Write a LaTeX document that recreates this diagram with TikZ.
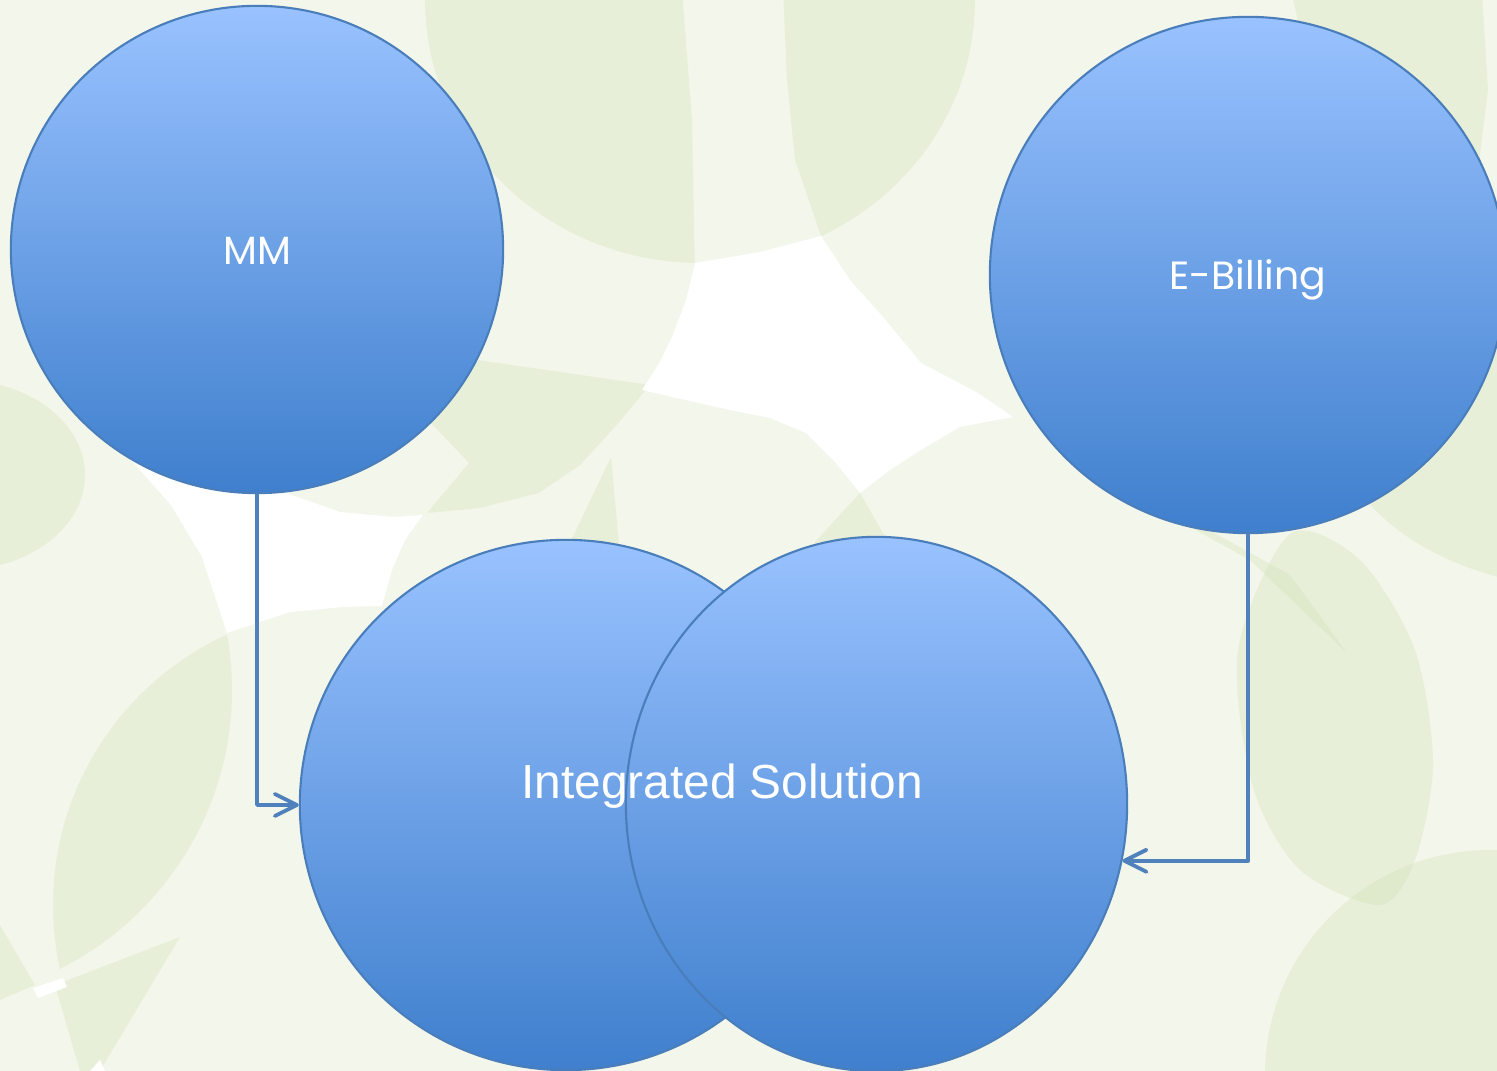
\documentclass[tikz,border=0pt]{standalone}
\usepackage{fontspec}
\setmainfont{Liberation Sans}
\newfontfamily\geofont{Poppins}
\usetikzlibrary{shapes.geometric,arrows.meta}

\definecolor{paper}{HTML}{F3F6EA}
\definecolor{leafgreen}{RGB}{200,220,170}
\definecolor{ballTop}{HTML}{99C2FF}
\definecolor{ballBot}{HTML}{3F7FCD}
\definecolor{rim}{HTML}{4A7EBB}
\definecolor{linkblue}{HTML}{4F81BD}

\begin{document}
\begin{tikzpicture}[x=0.01cm,y=-0.01cm,
    leaf/.style={fill=leafgreen,fill opacity=0.25},
    ball/.style={ellipse,draw=rim,line width=0.6pt,top color=ballTop,bottom color=ballBot,
      inner sep=0pt,text=white},
    balltext/.style={font=\geofont\fontsize{11.2}{14}\selectfont,text height=8.4pt,text depth=0pt},
    linkarrow/.style={draw=linkblue,line width=1.1pt,line cap=round,line join=round,
      -{Straight Barb[length=2.2mm,width=2.2mm,round]}}]
  \useasboundingbox (0,0) rectangle (1497,1071);
  \clip (0,0) rectangle (1497,1071);

  % background leaves
  \fill[paper] (0,0) rectangle (1497,1071);
  \begin{scope}
    \clip (0,-10) -- (682,-10) -- (692,120) -- (695,275) -- (0,275) -- cycle;
    \fill[leaf] (700,0) ellipse (275 and 263);
  \end{scope}
  \begin{scope}
    \clip (783,-10) -- (787,80) -- (795,160) -- (821,236) -- (1000,330) -- (1000,-10) -- cycle;
    \fill[leaf] (700,0) ellipse (275 and 263);
  \end{scope}
  \fill[leaf] (450,345) -- (477,360) -- (560,372) -- (650,385) -- (615,427) -- (580,465)
    -- (539,493) -- (480,508) -- (427,513) -- (469,463) -- (431,423) -- cycle;
  \fill[leaf] (-40,475) ellipse (125 and 95);
  \begin{scope}
    \clip (-80,690) circle (312);
    \fill[leaf] (350,905) circle (297);
  \end{scope}
  \fill[leaf] (55,985) -- (180,937) -- (100,1071) -- (80,1071) -- (68,1030) -- cycle;
  \fill[leaf] (0,925) -- (35,985) -- (0,1000) -- cycle;
  \fill[leaf] (611,457) -- (569,545) -- (619,545) -- cycle;
  \fill[leaf] (814,543) -- (860,493) -- (887,540) -- cycle;
  \fill[leaf] plot[smooth cycle] coordinates {(1290,534) (1360,560) (1415,650) (1433,764)
    (1415,860) (1380,905) (1300,870) (1253,787) (1238,650)};
  \fill[leaf] (1490,1075) circle (225);
  \fill[leaf] (1600,420) ellipse (265 and 170);
  \fill[leaf] (1150,505) -- (1250,560) -- (1347,653) -- (1290,575) -- (1200,525) -- cycle;
  \fill[leaf] (1292,-5) -- (1482,-5) -- (1488,90) -- (1478,170) -- (1420,150) -- (1300,30) -- cycle;

  % white gaps
  \fill[white] (695,263) -- (760,252) -- (821,236) -- (850,280) -- (883,317) -- (921,363)
    -- (978,393) -- (1013,417) -- (960,427) -- (921,450) -- (890,470) -- (860,493)
    -- (835,462) -- (806,433) -- (770,418) -- (730,410) -- (672,397) -- (642,390)
    -- (660,362) -- (672,337) -- (686,300) -- cycle;
  \fill[white] (120,440) -- (131,460) -- (171,505) -- (202,557) -- (227,633) -- (290,612)
    -- (344,607) -- (382,606) -- (392,570) -- (405,540) -- (423,515) -- (394,517)
    -- (340,512) -- (286,493) -- (220,470) -- (160,445) -- cycle;
  \fill[white] (33,988) -- (63,978) -- (67,987) -- (38,998) -- cycle;
  \fill[white] (90,1071) -- (100,1060) -- (105,1071) -- cycle;

  % circles
  \node[ball,balltext,minimum width=4.92cm,minimum height=4.87cm] (mm) at (257,249.5) {MM};
  \node[ball,balltext,minimum width=5.16cm,minimum height=5.16cm] (ebill) at (1248,275) {E-Billing};
  \node[ball,minimum width=5.32cm,minimum height=5.30cm] (intA) at (566,805) {};
  \node[ball,minimum width=5.01cm,minimum height=5.34cm] (intB) at (876.5,804) {};
  \node[text=white,inner sep=0pt,font=\fontsize{13.6}{16}\selectfont] (intlabel) at (722,786)
    {Integrated Solution};

  \draw[linkarrow] (mm.south) |- (intA.west);
  \draw[linkarrow] (ebill.south) |- (intB.-13);
\end{tikzpicture}
\end{document}
